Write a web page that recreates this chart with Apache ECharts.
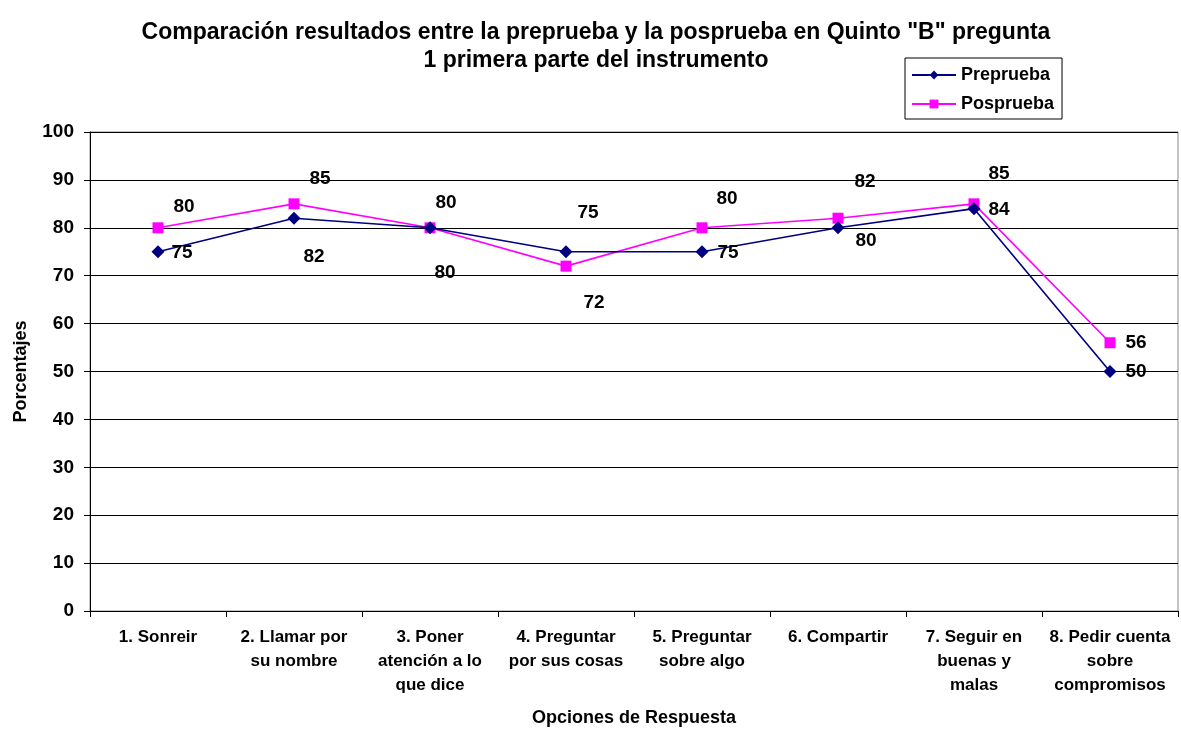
<!DOCTYPE html>
<html>
<head>
<meta charset="utf-8">
<script src="https://cdn.jsdelivr.net/npm/echarts@6/dist/echarts.min.js"></script>
<style>
  html, body { margin: 0; padding: 0; background: #fff; }
  #chart { width: 1181px; height: 730px; }
</style>
</head>
<body>
<div id="chart"></div>
<script>
// categorias del eje x
const categorias = [
  '1. Sonreir',
  '2. Llamar por\nsu nombre',
  '3. Poner\natención a lo\nque dice',
  '4. Preguntar\npor sus cosas',
  '5. Preguntar\nsobre algo',
  '6. Compartir',
  '7. Seguir en\nbuenas y\nmalas',
  '8. Pedir cuenta\nsobre\ncompromisos'
]
// valores
const preprueba = [75, 82, 80, 75, 75, 80, 84, 50]
const posprueba = [80, 85, 80, 72, 80, 82, 85, 56]
// ticks eje y
const yTicks = [0, 10, 20, 30, 40, 50, 60, 70, 80, 90, 100]

// desplazamiento de las etiquetas (solo estilo)
const offsetPre = [[24, 1], [20, 39], [15, 45], [22, -39], [26, 1], [28, 13], [25, 1], [26, 0]]
const offsetPos = [[26, -21], [26, -25], [16, -25], [28, 37], [25, -29], [27, -36], [25, -30], [26, 0]]

const fuente = 'Liberation Sans, Arial, sans-serif'

function conEtiquetas(valores, offsets) {
  return valores.map((v, i) => ({
    value: v,
    label: {offset: offsets[i]}
  }))
}

const myChart = echarts.init(document.getElementById('chart'))
myChart.setOption({
  animation: false,
  textStyle: {fontFamily: fuente},
  title: {
    text: 'Comparación resultados entre la preprueba y la posprueba en Quinto "B" pregunta\n1 primera parte del instrumento',
    left: 591,
    top: 14,
    textAlign: 'center',
    textStyle: {fontSize: 23, fontWeight: 'bold', color: '#000', lineHeight: 28, fontFamily: fuente}
  },
  legend: {
    orient: 'vertical',
    left: 905,
    top: 58,
    width: 157,
    padding: [8, 8, 6, 6],
    itemGap: 11,
    itemWidth: 44,
    itemHeight: 11,
    borderColor: '#000',
    borderWidth: 1,
    textStyle: {fontSize: 18, fontWeight: 'bold', color: '#000', fontFamily: fuente},
    data: ['Preprueba', 'Posprueba']
  },
  grid: {
    left: 90,
    right: 3,
    top: 132,
    bottom: 119,
    outerBoundsMode: 'none',
    show: true,
    borderColor: '#888',
    borderWidth: 1
  },
  xAxis: {
    type: 'category',
    data: categorias,
    boundaryGap: true,
    name: 'Opciones de Respuesta',
    nameLocation: 'middle',
    nameGap: 98,
    nameTextStyle: {fontSize: 18, fontWeight: 'bold', color: '#000'},
    axisLine: {lineStyle: {color: '#000', width: 1}},
    axisTick: {show: true, length: 6, alignWithLabel: false, lineStyle: {color: '#000'}},
    axisLabel: {
      interval: 0,
      margin: 14,
      fontSize: 17,
      fontWeight: 'bold',
      color: '#000',
      lineHeight: 24,
      align: 'center'
    }
  },
  yAxis: {
    type: 'value',
    min: yTicks[0],
    max: yTicks[yTicks.length - 1],
    interval: 10,
    name: 'Porcentajes',
    nameLocation: 'middle',
    nameGap: 60,
    nameTextStyle: {fontSize: 18, fontWeight: 'bold', color: '#000'},
    axisLine: {show: true, lineStyle: {color: '#000', width: 1}},
    axisTick: {show: true, length: 6, lineStyle: {color: '#000'}},
    axisLabel: {fontSize: 19, fontWeight: 'bold', color: '#000', margin: 16},
    splitLine: {lineStyle: {color: '#000', width: 1}}
  },
  series: [
    {
      name: 'Preprueba',
      type: 'line',
      data: conEtiquetas(preprueba, offsetPre),
      symbol: 'diamond',
      symbolSize: 13,
      color: '#000080',
      lineStyle: {width: 1.6, color: '#000080'},
      itemStyle: {color: '#000080'},
      label: {
        show: true,
        position: 'inside',
        fontSize: 19,
        fontWeight: 'bold',
        color: '#000'
      },
      z: 3
    },
    {
      name: 'Posprueba',
      type: 'line',
      data: conEtiquetas(posprueba, offsetPos),
      symbol: 'rect',
      symbolSize: 11,
      color: '#ff00ff',
      lineStyle: {width: 1.6, color: '#ff00ff'},
      itemStyle: {color: '#ff00ff'},
      label: {
        show: true,
        position: 'inside',
        fontSize: 19,
        fontWeight: 'bold',
        color: '#000'
      },
      z: 2
    }
  ]
})
</script>
</body>
</html>
